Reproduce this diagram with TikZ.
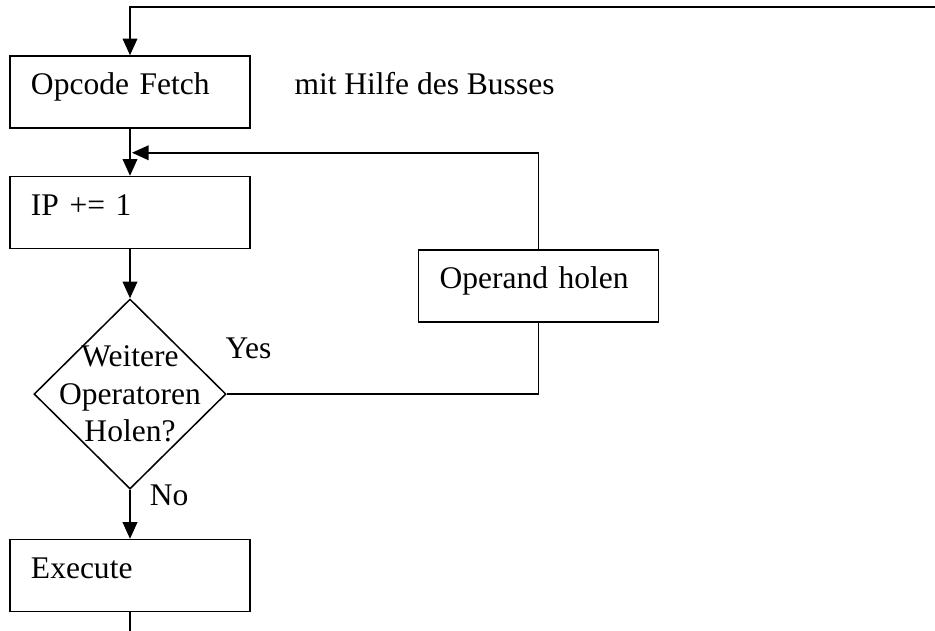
\documentclass[tikz,border=0pt]{standalone}
\usepackage{fontspec}
\setmainfont{Liberation Serif}
\usetikzlibrary{shapes, arrows.meta, positioning}

\begin{document}
\begin{tikzpicture}[
    font=\fontsize{26.9}{32}\selectfont,
    line width=1.3pt,
    stepbox/.style={draw, minimum width=7.2cm, minimum height=2.16cm, text width=5.94cm, inner xsep=0.63cm, align=left, text height=0.7em, text depth=0.25em},
    decision/.style={draw, diamond, minimum width=5.76cm, minimum height=5.7cm, inner sep=0},
    flow/.style={-{Triangle[length=0.5cm, width=0.44cm]}},
    lbl/.style={inner sep=0}
  ]
  \useasboundingbox (0,0) rectangle (28.05,-18.9);

  \node [stepbox] (fetch) at (3.9,-2.76) {Opcode Fetch};
  \node [lbl, right=1.29cm of fetch, text height=0.7em, text depth=0.25em] (bus) {mit Hilfe des Busses};
  \node [stepbox, below=1.41cm of fetch] (ip) {IP += 1};
  \node [decision, below=1.47cm of ip] (dec) {};
  \node [lbl, align=center] (q) at (dec) {Weitere\\Operatoren\\Holen?};
  \node [stepbox, below=1.47cm of dec] (exec) {Execute};
  \node [stepbox, below right=0cm and 5.01cm of ip.south east] (operand) {Operand holen};

  \node [lbl, above right=1.02cm and -0.06cm of dec.east] (yes) {Yes};
  \node [lbl, anchor=base west] (no) at ([shift={(0.57cm,-0.48cm)}]dec.south) {No};

  \coordinate [above right=1.44cm and 24.15cm of fetch.north] (topright);
  \coordinate [below=0.72cm of fetch.south] (merge);
  \coordinate [below=0.7cm of exec.south] (out);

  \draw [flow] (topright) -| (fetch.north);
  \draw [flow] (fetch.south) -- (ip.north);
  \draw [flow, shorten >=0.06cm] (operand.north) |- (merge);
  \draw [flow] (ip.south) -- (dec.north);
  \draw (dec.east) -| (operand.south);
  \draw [flow] (dec.south) -- (exec.north);
  \draw (exec.south) -- (out);
\end{tikzpicture}
\end{document}
